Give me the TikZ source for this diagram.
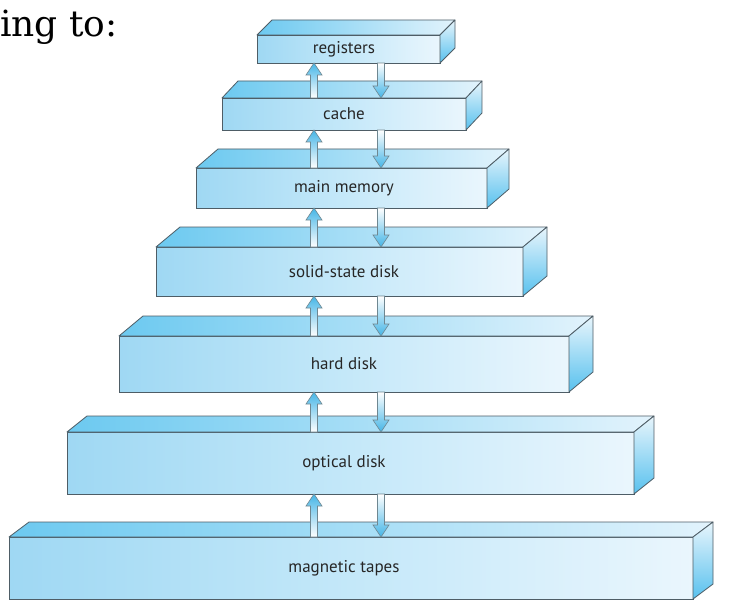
\documentclass[tikz,border=0pt]{standalone}
\usepackage{fontspec}
\setmainfont{DejaVu Serif}
\newfontfamily\labelfont{PT Sans}
\usetikzlibrary{calc}
\definecolor{edge}{HTML}{4E5D66}
\definecolor{frontL}{HTML}{9FD8F3}
\definecolor{frontM}{HTML}{C4E8F9}
\definecolor{frontR}{HTML}{EAF6FD}
\definecolor{topL}{HTML}{6CC9F0}
\definecolor{topR}{HTML}{E2F3FC}
\definecolor{sideT}{HTML}{E8F5FC}
\definecolor{sideB}{HTML}{58C1EE}
\definecolor{arrowblue}{HTML}{45B5E6}
\definecolor{arrowedge}{HTML}{6F8791}
\tikzset{
  front/.style={draw=edge, line width=0.8pt, left color=frontL, right color=frontR, middle color=frontM, inner sep=0pt, outer sep=0pt},
  topface/.style={draw=edge, line width=0.8pt, left color=topL, right color=topR, line join=round},
  sideface/.style={draw=edge, line width=0.8pt, top color=sideT, bottom color=sideB, line join=round},
  lbl/.style={font=\labelfont\fontsize{17pt}{19pt}\selectfont, text=black!85, inner sep=0pt},
  arrowsty/.style={draw=arrowedge, line width=0.6pt, line join=miter},
}
\newcommand\memlevel[8]{%
  \node[front, minimum width={#4-#2}, minimum height={#5-#3}] (#1) at ({(#2+#4)/2},{(#3+#5)/2}) {};
  \shade[topface] (#1.north west) -- ++(#6,-#7) -- ++({#4-#2},0) -- (#1.north east) -- cycle;
  \shade[sideface] (#1.north east) -- ++(#6,-#7) -- ++(0,{#5-#3}) -- (#1.south east) -- cycle;
  \node[lbl] (#1t) at (#1.center -| lx) {#8};
}
\newcommand\arrowup[2]{%
  \shade[arrowsty, bottom color=white, top color=arrowblue]
    let \p1=(#1.north -| ua), \p2=(#2.south -| ua) in
    (\x1-3.5pt,\y1) -- (\x1-3.5pt,\y2-12pt) -- (\x1-8pt,\y2-12pt) -- (\x1,\y2)
    -- (\x1+8pt,\y2-12pt) -- (\x1+3.5pt,\y2-12pt) -- (\x1+3.5pt,\y1) -- cycle;
}
\newcommand\arrowdown[2]{%
  \shade[arrowsty, top color=white, bottom color=arrowblue]
    let \p1=(#1.south -| da), \p2=(#2.north -| da) in
    (\x1-3.5pt,\y1) -- (\x1-3.5pt,\y2+12pt) -- (\x1-8pt,\y2+12pt) -- (\x1,\y2)
    -- (\x1+8pt,\y2+12pt) -- (\x1+3.5pt,\y2+12pt) -- (\x1+3.5pt,\y1) -- cycle;
}
\begin{document}
\begin{tikzpicture}[x=1pt,y=-1pt]
\useasboundingbox[fill=white] (0,0) rectangle (736,615);
\coordinate (lx) at (344,0);
\coordinate (ua) at (314,0);
\coordinate (da) at (381,0);
\node[anchor=base west, inner sep=0pt, font=\fontsize{36pt}{40pt}\selectfont] (title) at (0,37) {ing to:};
\memlevel{reg}{257}{35}{440}{63}{15}{15}{registers}
\memlevel{cache}{222}{98}{466}{130}{16}{17}{cache}
\memlevel{mm}{196}{168}{487}{208}{22}{19}{main memory}
\memlevel{ssd}{156}{247}{523}{296}{24}{20}{solid-state disk}
\memlevel{hd}{119}{336}{569}{392}{24}{20}{hard disk}
\memlevel{od}{67}{432}{634}{494}{20}{16}{optical disk}
\memlevel{mt}{9}{537}{693}{599}{20}{15}{magnetic tapes}
\arrowup{cache}{reg}\arrowdown{reg}{cache}
\arrowup{mm}{cache}\arrowdown{cache}{mm}
\arrowup{ssd}{mm}\arrowdown{mm}{ssd}
\arrowup{hd}{ssd}\arrowdown{ssd}{hd}
\arrowup{od}{hd}\arrowdown{hd}{od}
\arrowup{mt}{od}\arrowdown{od}{mt}
\end{tikzpicture}
\end{document}
